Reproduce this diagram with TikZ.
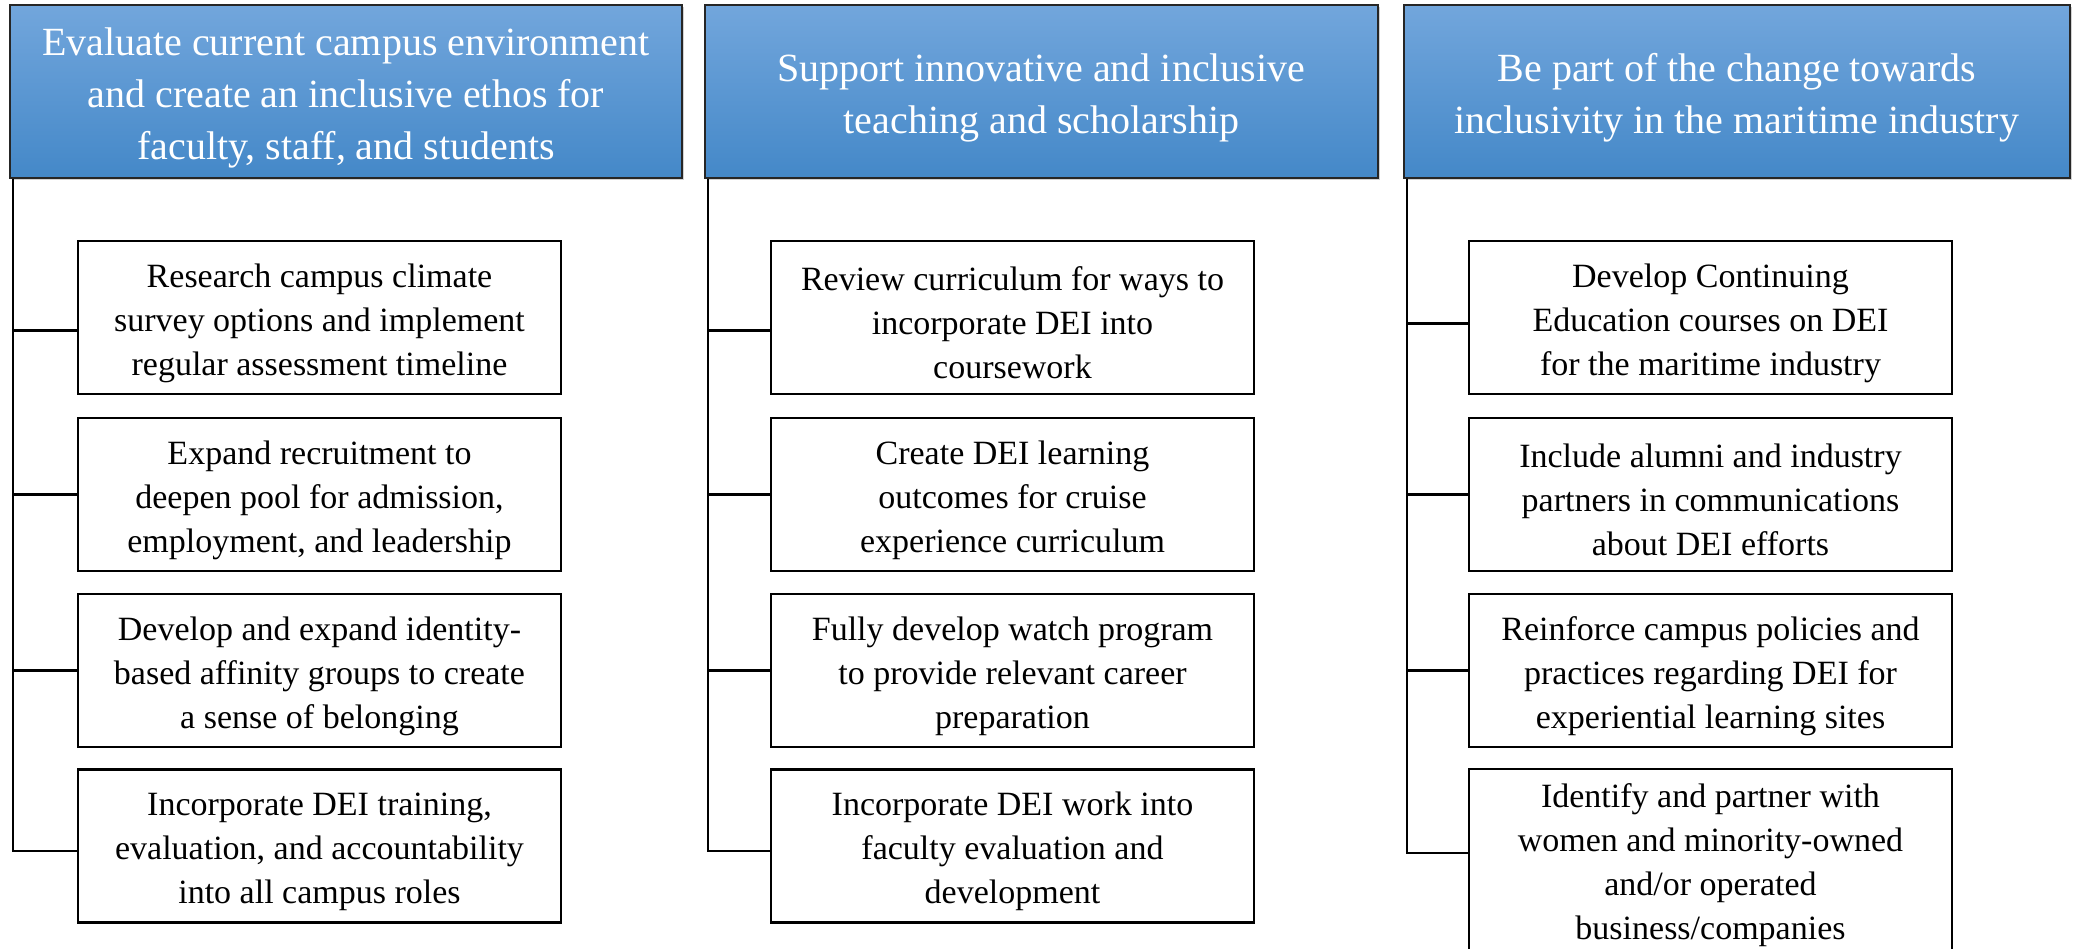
\documentclass[tikz,border=0pt]{standalone}
\usepackage{fontspec}
\setmainfont{Liberation Serif}
\usetikzlibrary{shadows}
\definecolor{hdtop}{RGB}{114,166,220}
\definecolor{hdbot}{RGB}{68,136,200}
\newcommand\cstrut{\rule{0pt}{35pt}}
\newcommand\hstrut{\rule{0pt}{41pt}}
\begin{document}
\begin{tikzpicture}[x=1pt,y=-1pt,
  header/.style={draw=black!85, line width=1.6pt, top color=hdtop, bottom color=hdbot,
    minimum height=173pt, text=white, align=center, inner sep=0pt,
    font=\fontsize{40}{52}\selectfont,
    drop shadow={opacity=0.35, shadow xshift=1.5pt, shadow yshift=-2.5pt}},
  child/.style={draw=black, line width=2.8pt, fill=white, minimum width=483pt, minimum height=153pt,
    align=center, inner sep=0pt, font=\fontsize{34}{44}\selectfont},
  link/.style={draw=black, line width=2.2pt}]
\clip (0,0) rectangle (2073,949);
\useasboundingbox (0,0) rectangle (2073,949);
\fill[white] (0,0) rectangle (2073,949);

\node[header, minimum width=672pt] (h1) at (346,91.5) {\hstrut Evaluate current campus environment\\and create an inclusive ethos for\\faculty, staff, and students};
\node[header, minimum width=673pt] (h2) at (1041.5,91.5) {\hstrut Support innovative and inclusive\\teaching and scholarship};
\node[header, minimum width=666pt] (h3) at (1737,91.5) {\hstrut Be part of the change towards\\inclusivity in the maritime industry};

\node[child] (a1) at (319.5,317.5) {\cstrut Research campus climate\\survey options and implement\\regular assessment timeline};
\node[child] (a2) at (319.5,494.5) {\cstrut Expand recruitment to\\deepen pool for admission,\\employment, and leadership};
\node[child] (a3) at (319.5,670.5) {\cstrut Develop and expand identity-\\based affinity groups to create\\a sense of belonging};
\node[child] (a4) at (319.5,846) {\cstrut Incorporate DEI training,\\evaluation, and accountability\\into all campus roles};

\node[child] (b1) at (1012.5,317.5) {\cstrut Review curriculum for ways to\\incorporate DEI into\\coursework};
\node[child] (b2) at (1012.5,494.5) {\cstrut Create DEI learning\\outcomes for cruise\\experience curriculum};
\node[child] (b3) at (1012.5,670.5) {\cstrut Fully develop watch program\\to provide relevant career\\preparation};
\node[child] (b4) at (1012.5,846) {\cstrut Incorporate DEI work into\\faculty evaluation and\\development};

\node[child] (c1) at (1710.5,317.5) {\cstrut Develop Continuing\\Education courses on DEI\\for the maritime industry};
\node[child] (c2) at (1710.5,494.5) {\cstrut Include alumni and industry\\partners in communications\\about DEI efforts};
\node[child] (c3) at (1710.5,670.5) {\cstrut Reinforce campus policies and\\practices regarding DEI for\\experiential learning sites};
\node[child, minimum height=192pt] (c4) at (1710.5,865) {Identify and partner with\\women and minority-owned\\and/or operated\\business/companies};

\draw[link] ([xshift=4pt]h1.south west) |- ([yshift=-13pt]a1.west);
\draw[link] ([xshift=4pt]h1.south west) |- (a2.west);
\draw[link] ([xshift=4pt]h1.south west) |- (a3.west);
\draw[link] ([xshift=4pt]h1.south west) |- ([yshift=-5pt]a4.west);
\draw[link] ([xshift=4pt]h2.south west) |- ([yshift=-13pt]b1.west);
\draw[link] ([xshift=4pt]h2.south west) |- (b2.west);
\draw[link] ([xshift=4pt]h2.south west) |- (b3.west);
\draw[link] ([xshift=4pt]h2.south west) |- ([yshift=-5pt]b4.west);
\draw[link] ([xshift=4pt]h3.south west) |- ([yshift=-6pt]c1.west);
\draw[link] ([xshift=4pt]h3.south west) |- (c2.west);
\draw[link] ([xshift=4pt]h3.south west) |- (c3.west);
\draw[link] ([xshift=4pt]h3.south west) |- ([yshift=12pt]c4.west);
\end{tikzpicture}
\end{document}
